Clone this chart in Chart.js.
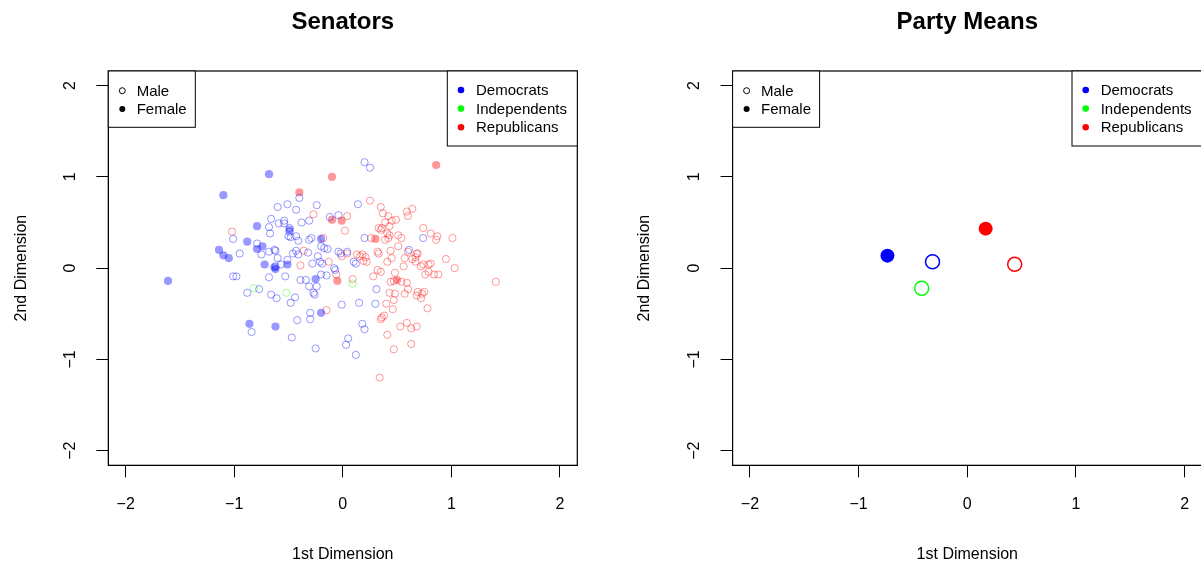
<!DOCTYPE html>
<html>
<head>
<meta charset="utf-8">
<script src="https://cdn.jsdelivr.net/npm/chart.js@4.4.1/dist/chart.umd.min.js"></script>
<style>
  body { margin: 0; background: #fff; overflow: hidden; }
  #wrap { position: relative; width: 1201px; height: 569px; overflow: hidden; }
  #senators { position: absolute; left: 0; top: 0; }
  #means { position: absolute; left: 600px; top: 0; }
</style>
</head>
<body>
<div id="wrap">
  <canvas id="senators" width="600" height="569"></canvas>
  <canvas id="means" width="602" height="569"></canvas>
</div>
<script>
// ---- data (1st dimension, 2nd dimension) ----
const tickValues = [-2, -1, 0, 1, 2];
const axisLimit = 2.16;

const genderLabels = ['Male', 'Female'];
const partyLabels = ['Democrats', 'Independents', 'Republicans'];

const demMale = [
  [-0.40,0.77],[-0.60,0.67],[-0.51,0.70],[-0.43,0.64],[-0.24,0.69],[-0.31,0.52],[-0.38,0.50],
  [-0.66,0.54],[-0.59,0.49],[-0.54,0.52],[-0.54,0.49],[-0.68,0.45],[-0.67,0.38],[-0.49,0.44],
  [-0.49,0.40],[-0.50,0.35],[-0.48,0.34],[-0.43,0.35],[-0.41,0.30],[-1.01,0.32],[-0.79,0.27],
  [-0.75,0.15],[-0.95,0.16],[-0.68,0.18],[-0.63,0.20],[-0.62,0.19],[-0.60,0.11],[-0.51,0.09],
  [-0.46,0.16],[-0.41,0.15],[-0.43,0.19],[-0.32,0.17],[-0.31,0.31],[-0.29,0.33],[-0.20,0.24],
  [-0.17,0.22],[-0.14,0.21],[-0.12,0.56],[-0.04,0.58],[-0.04,0.18],[-0.02,0.16],[-0.23,0.13],
  [-0.28,0.05],[-0.21,0.07],[-0.19,0.05],[-0.08,0.00],[-0.57,0.04],[-0.62,0.02],[-1.01,-0.09],
  [-0.98,-0.09],[-0.68,-0.10],[-0.53,-0.09],[-0.39,-0.13],[-0.34,-0.13],[-0.31,-0.20],[-0.24,-0.20],
  [-0.20,-0.07],[-0.15,-0.08],[-0.27,-0.27],[-0.07,-0.02],[-0.77,-0.23],[-0.88,-0.27],[-0.66,-0.29],
  [-0.61,-0.33],[-0.44,-0.32],[-0.48,-0.38],[-0.30,-0.49],[-0.30,-0.56],[-0.42,-0.57],[-0.84,-0.70],
  [-0.47,-0.76],[-0.25,-0.88],[0.05,-0.77],[0.03,-0.84],[0.20,1.16],[0.25,1.10],[0.14,0.70],
  [0.20,0.33],[0.74,0.33],[0.61,0.20],[0.04,0.18],[0.10,0.07],[0.12,0.05],[0.31,-0.23],
  [-0.01,-0.40],[0.15,-0.38],[0.30,-0.39],[0.18,-0.61],[0.20,-0.67],[0.12,-0.95],[-0.26,-0.29]
];
const demFemale = [
  [-0.68,1.03],[-1.10,0.80],[-0.79,0.46],[-0.88,0.29],[-0.74,0.24],[-0.79,0.21],[-1.14,0.20],
  [-1.10,0.14],[-1.05,0.11],[-0.72,0.04],[-0.63,0.01],[-0.62,-0.01],[-0.51,0.04],[-0.49,0.42],
  [-0.20,0.32],[-0.25,-0.12],[-0.20,-0.49],[-0.86,-0.61],[-0.62,-0.64],[-1.61,-0.14]
];
const indMale = [[-0.82,-0.22],[-0.52,-0.27],[0.09,-0.17]];
const repMale = [
  [-0.27,0.59],[-1.02,0.40],[-0.36,0.19],[-0.18,0.33],[0.04,0.57],[0.02,0.41],[-0.01,0.13],
  [0.04,0.16],[-0.13,0.07],[-0.39,0.03],[-0.06,-0.07],[-0.15,-0.46],[0.25,0.74],[0.35,0.67],
  [0.37,0.60],[0.42,0.57],[0.49,0.53],[0.59,0.62],[0.64,0.65],[0.60,0.57],[0.39,0.50],
  [0.43,0.46],[0.45,0.52],[0.33,0.44],[0.36,0.44],[0.35,0.42],[0.41,0.38],[0.43,0.36],
  [0.42,0.33],[0.39,0.31],[0.51,0.36],[0.54,0.33],[0.51,0.24],[0.26,0.33],[0.74,0.44],
  [0.81,0.38],[0.87,0.35],[0.86,0.31],[1.01,0.33],[0.60,0.18],[0.67,0.12],[0.64,0.10],
  [0.68,0.16],[0.74,0.04],[0.79,0.04],[0.81,0.05],[0.95,0.10],[1.03,0.00],[0.32,0.18],
  [0.33,0.16],[0.44,0.19],[0.45,0.11],[0.41,0.07],[0.56,0.02],[0.13,0.15],[0.18,0.15],
  [0.21,0.12],[0.19,0.08],[0.16,0.13],[0.22,0.07],[0.57,0.11],[0.69,0.16],[0.67,0.07],
  [0.72,0.02],[0.79,-0.04],[0.88,-0.07],[0.84,-0.07],[0.76,-0.07],[1.41,-0.15],[0.48,-0.05],
  [0.32,-0.02],[0.35,-0.04],[0.28,-0.09],[0.44,-0.15],[0.47,-0.14],[0.54,-0.15],[0.59,-0.16],
  [0.60,-0.23],[0.09,-0.12],[0.43,-0.27],[0.48,-0.28],[0.57,-0.28],[0.69,-0.26],[0.75,-0.26],
  [0.73,-0.28],[0.68,-0.30],[0.47,-0.35],[0.72,-0.33],[0.78,-0.44],[0.40,-0.39],[0.46,-0.45],
  [0.35,-0.56],[0.38,-0.52],[0.36,-0.54],[0.53,-0.64],[0.59,-0.60],[0.63,-0.66],[0.68,-0.64],
  [0.41,-0.73],[0.47,-0.89],[0.63,-0.83],[0.34,-1.20]
];
const repFemale = [
  [-0.10,1.00],[-0.40,0.83],[0.86,1.13],[-0.10,0.53],[-0.01,0.52],[-0.05,-0.14],[0.30,0.32],[0.50,-0.13]
];

// party means by gender
const demMaleMean = [[-0.32, 0.07]];
const demFemaleMean = [[-0.735, 0.137]];
const indMaleMean = [[-0.42, -0.22]];
const repMaleMean = [[0.436, 0.042]];
const repFemaleMean = [[0.169, 0.433]];

const FONT = '"Liberation Sans", Arial, Helvetica, sans-serif';
Chart.defaults.font.family = FONT;
Chart.defaults.color = '#000';

const blue = 'rgb(0,0,255)', green = 'rgb(0,255,0)', red = 'rgb(255,0,0)';
const fade = c => c.replace('rgb', 'rgba').replace(')', ',0.4)');
const pts = arr => arr.map(p => ({ x: p[0], y: p[1] }));

function openSet(arr, color, r, w) {
  return { data: pts(arr), pointRadius: r, pointBorderWidth: w, pointBorderColor: color,
           pointBackgroundColor: 'rgba(0,0,0,0)', showLine: false };
}
function filledSet(arr, color, r) {
  return { data: pts(arr), pointRadius: r, pointBorderWidth: 0, pointBorderColor: color,
           pointBackgroundColor: color, showLine: false };
}

const fmt = v => (v < 0 ? '\u2212' + (-v) : String(v));

function scales(yWidth, yTitlePad) {
  return {
    x: {
      type: 'linear', min: -axisLimit, max: axisLimit,
      afterBuildTicks: s => { s.ticks = tickValues.map(v => ({ value: v })); },
      afterFit: s => { s.height = 103.7; s.paddingLeft = 0; s.paddingRight = 0; },
      grid: { drawOnChartArea: false, drawTicks: true, tickLength: 12, color: '#000', lineWidth: 1 },
      border: { display: true, color: '#000', width: 1 },
      ticks: { autoSkip: false, maxRotation: 0, padding: 18, font: { size: 16 }, callback: fmt },
      title: { display: true, text: '1st Dimension', font: { size: 16 }, padding: { bottom: 4.4 } }
    },
    y: {
      type: 'linear', min: -axisLimit, max: axisLimit,
      afterBuildTicks: s => { s.ticks = tickValues.map(v => ({ value: v })); },
      afterFit: s => { s.width = yWidth; s.paddingTop = 0; s.paddingBottom = 0; },
      grid: { drawOnChartArea: false, drawTicks: true, tickLength: 12, color: '#000', lineWidth: 1 },
      border: { display: true, color: '#000', width: 1 },
      ticks: { autoSkip: false, minRotation: 90, maxRotation: 90, crossAlign: 'center',
               padding: 17, font: { size: 16 }, callback: fmt },
      title: { display: true, text: '2nd Dimension', font: { size: 16 }, padding: { top: yTitlePad } }
    }
  };
}

// box round the plot plus the two legends
const frameAndLegends = {
  id: 'frameAndLegends',
  afterDraw(chart) {
    const { ctx, chartArea: a } = chart;
    ctx.save();
    ctx.strokeStyle = '#000';
    ctx.lineWidth = 1.2;
    ctx.strokeRect(a.left, a.top, a.right - a.left, a.bottom - a.top);

    ctx.font = '15px ' + FONT;
    ctx.textBaseline = 'middle';
    ctx.lineWidth = 1;

    // gender legend (top left)
    const gw = 87, gh = 56.3;
    ctx.fillStyle = '#fff';
    ctx.fillRect(a.left, a.top, gw, gh);
    ctx.strokeRect(a.left, a.top, gw, gh);
    genderLabels.forEach((lab, i) => {
      const y = a.top + 19.7 + i * 18.3;
      ctx.beginPath();
      ctx.arc(a.left + 14, y, 3, 0, Math.PI * 2);
      if (i === 0) { ctx.strokeStyle = '#000'; ctx.stroke(); }
      else { ctx.fillStyle = '#000'; ctx.fill(); }
      ctx.fillStyle = '#000';
      ctx.fillText(lab, a.left + 28.4, y + 1);
    });

    // party legend (top right)
    const pw = 130, ph = 75;
    const px = a.right - pw;
    ctx.fillStyle = '#fff';
    ctx.fillRect(px, a.top, pw, ph);
    ctx.strokeStyle = '#000';
    ctx.strokeRect(px, a.top, pw, ph);
    const partyColors = [blue, green, red];
    partyLabels.forEach((lab, i) => {
      const y = a.top + 19 + i * 18.6;
      ctx.beginPath();
      ctx.arc(px + 13.7, y, 3.3, 0, Math.PI * 2);
      ctx.fillStyle = partyColors[i];
      ctx.fill();
      ctx.fillStyle = '#000';
      ctx.fillText(lab, px + 28.7, y + 1);
    });
    ctx.restore();
  }
};

function baseOptions(title, yWidth, yTitlePad, padRight) {
  return {
    responsive: false,
    animation: false,
    layout: { autoPadding: false, padding: { left: 0, right: padRight, top: 0, bottom: 0 } },
    plugins: {
      legend: { display: false },
      tooltip: { enabled: false },
      title: { display: true, text: title, fullSize: false, color: '#000',
               font: { size: 24, weight: 'bold' }, padding: { top: 7.6, bottom: 34.6 } }
    },
    scales: scales(yWidth, yTitlePad)
  };
}

new Chart(document.getElementById('senators'), {
  type: 'scatter',
  data: {
    datasets: [
      openSet(demMale, fade(blue), 3.6, 1),
      filledSet(demFemale, fade(blue), 4.1),
      openSet(indMale, fade(green), 3.6, 1),
      openSet(repMale, fade(red), 3.6, 1),
      filledSet(repFemale, fade(red), 4.1)
    ]
  },
  options: baseOptions('Senators', 108.3, 12.4, 22.7),
  plugins: [frameAndLegends]
});

new Chart(document.getElementById('means'), {
  type: 'scatter',
  data: {
    datasets: [
      filledSet(demFemaleMean, blue, 7),
      openSet(demMaleMean, blue, 7, 1.5),
      openSet(indMaleMean, green, 7, 1.5),
      filledSet(repFemaleMean, red, 7),
      openSet(repMaleMean, red, 7, 1.5)
    ]
  },
  options: baseOptions('Party Means', 132.6, 35.4, 0),
  plugins: [frameAndLegends]
});
</script>
</body>
</html>
